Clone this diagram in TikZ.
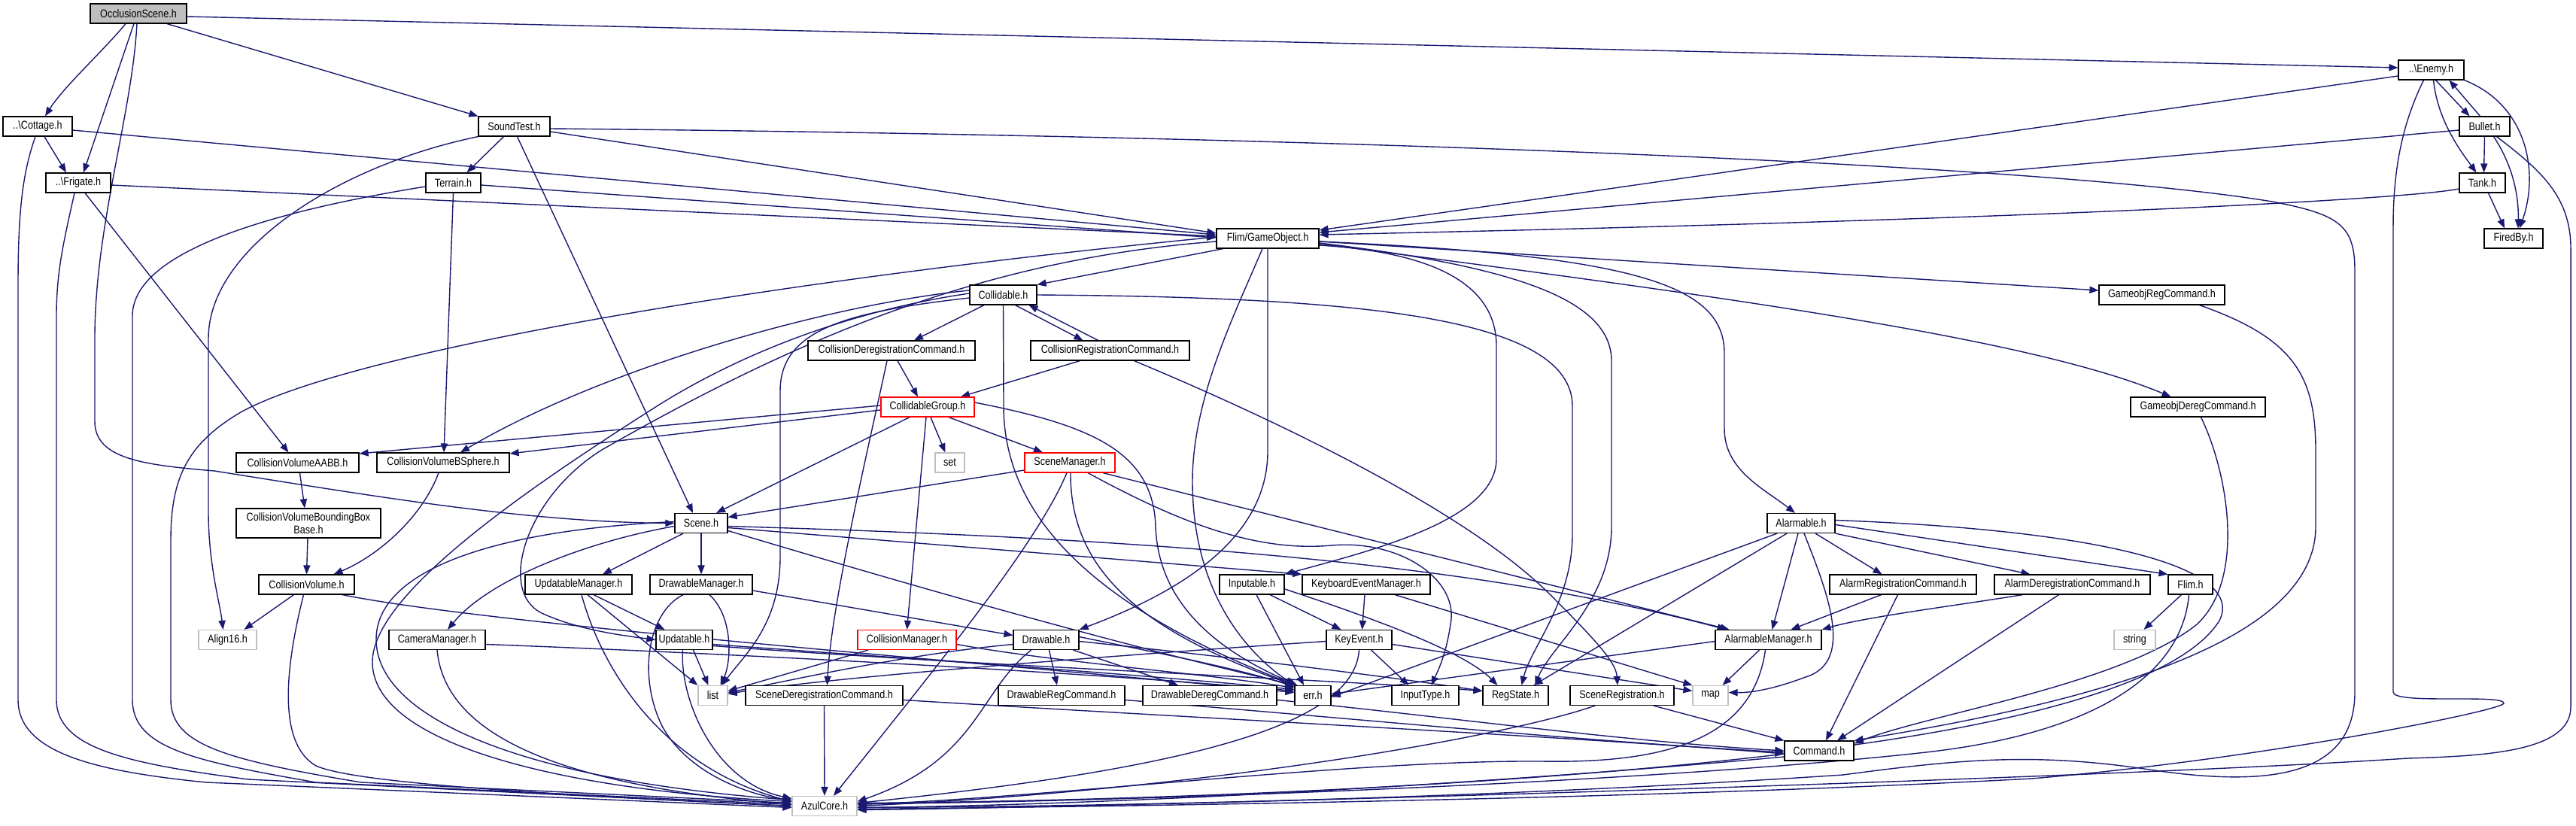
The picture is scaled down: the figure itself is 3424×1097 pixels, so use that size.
\documentclass[tikz,border=0pt]{standalone}
\usepackage{fontspec}
\setmainfont{Liberation Sans}[FakeStretch=0.84]
\usetikzlibrary{arrows.meta}
\definecolor{edgec}{HTML}{191970}
\definecolor{grayb}{HTML}{BFBFBF}
\pgfdeclarelayer{background}
\pgfsetlayers{background,main}
\tikzset{
 box/.style={draw=black, line width=0.6pt, fill=white, minimum height=13pt, inner sep=0pt, font=\fontsize{7.5}{8.6}\selectfont, text=black},
 graybox/.style={box, draw=grayb},
 redbox/.style={box, draw=red},
 dep/.style={draw=edgec, line width=0.7pt, -{Triangle[length=6pt,width=4.6pt]}},
}
\begin{document}
\begin{tikzpicture}[x=0.5pt,y=-0.5pt]
\useasboundingbox (0,0) rectangle (3424,1097);
% nodes
\node[box, fill=grayb, minimum width=64pt] (OS) at (184,18) {OcclusionScene.h};
\node[box, minimum width=46pt] (Cot) at (50,168) {..\textbackslash Cottage.h};
\node[box, minimum width=43pt] (Fri) at (104,243) {..\textbackslash Frigate.h};
\node[box, minimum width=47.5pt] (ST) at (683.5,168) {SoundTest.h};
\node[box, minimum width=36.5pt] (Ter) at (602.5,243) {Terrain.h};
\node[box, minimum width=68pt] (GO) at (1685,317) {Flim/GameObject.h};
\node[box, minimum width=43.5pt] (En) at (3231.5,93) {..\textbackslash Enemy.h};
\node[box, minimum width=33.5pt] (Bul) at (3302.5,168) {Bullet.h};
\node[box, minimum width=30.5pt] (Tank) at (3299.5,243) {Tank.h};
\node[box, minimum width=39pt] (FB) at (3341,317) {FiredBy.h};
\node[box, minimum width=44.5pt] (Col) at (1333.5,392) {Collidable.h};
\node[box, minimum width=83.5pt] (GRC) at (2873.5,392) {GameobjRegCommand.h};
\node[box, minimum width=111pt] (CDC) at (1185,466) {CollisionDeregistrationCommand.h};
\node[box, minimum width=105.5pt] (CRC) at (1475.5,466) {CollisionRegistrationCommand.h};
\node[redbox, minimum width=62pt] (CG) at (1233,541) {CollidableGroup.h};
\node[box, minimum width=89.5pt] (GDC) at (2921.5,541) {GameobjDeregCommand.h};
\node[box, minimum width=81.5pt] (AABB) at (395.5,615) {CollisionVolumeAABB.h};
\node[box, minimum width=88pt] (BS) at (589,615) {CollisionVolumeBSphere.h};
\node[graybox, minimum width=19.5pt] (set) at (1262.5,615) {set};
\node[redbox, minimum width=60pt] (SM) at (1422,615) {SceneManager.h};
\node[box, minimum width=96pt, minimum height=19.5pt, align=center] (BBB) at (410,695.5) {CollisionVolumeBoundingBox\\Base.h};
\node[box, minimum width=35pt] (Scene) at (932,695.5) {Scene.h};
\node[box, minimum width=45pt] (Alm) at (2394,695.5) {Alarmable.h};
\node[box, minimum width=63.5pt] (CV) at (407.5,777) {CollisionVolume.h};
\node[box, minimum width=71pt] (UM) at (769,777) {UpdatableManager.h};
\node[box, minimum width=68pt] (DM) at (932,777) {DrawableManager.h};
\node[box, minimum width=43pt] (Inp) at (1664,777) {Inputable.h};
\node[box, minimum width=85pt] (KEM) at (1816,777) {KeyboardEventManager.h};
\node[box, minimum width=97.5pt] (ARC) at (2529.5,777) {AlarmRegistrationCommand.h};
\node[box, minimum width=103.5pt] (ADC) at (2754.5,777) {AlarmDeregistrationCommand.h};
\node[box, minimum width=29.5pt] (Flim) at (2911.5,777) {Flim.h};
\node[graybox, minimum width=38.5pt] (A16) at (302.5,850.5) {Align16.h};
\node[box, minimum width=64pt] (CamM) at (581,850.5) {CameraManager.h};
\node[box, minimum width=37.5pt] (Upd) at (909.5,850.5) {Updatable.h};
\node[redbox, minimum width=65.5pt] (CM) at (1205.5,850.5) {CollisionManager.h};
\node[box, minimum width=43.5pt] (Drw) at (1390.5,850.5) {Drawable.h};
\node[box, minimum width=43.5pt] (KE) at (1806.5,850.5) {KeyEvent.h};
\node[box, minimum width=70.5pt] (AM) at (2350.5,850.5) {AlarmableManager.h};
\node[graybox, minimum width=27.5pt] (str) at (2837.5,850.5) {string};
\node[graybox, minimum width=19.5pt] (list) at (947.5,924.5) {list};
\node[box, minimum width=104.5pt] (SDC) at (1095.5,924.5) {SceneDeregistrationCommand.h};
\node[box, minimum width=84pt] (DRC) at (1411,924.5) {DrawableRegCommand.h};
\node[box, minimum width=89pt] (DDC) at (1608,924.5) {DrawableDeregCommand.h};
\node[box, minimum width=24pt] (err) at (1745,924.5) {err.h};
\node[box, minimum width=44.5pt] (IT) at (1894.5,924.5) {InputType.h};
\node[box, minimum width=43.5pt] (RS) at (2014.5,924.5) {RegState.h};
\node[box, minimum width=69pt] (SR) at (2156,924.5) {SceneRegistration.h};
\node[graybox, minimum width=23.5pt] (map) at (2273.5,924.5) {map};
\node[box, minimum width=46pt] (Cmd) at (2418,998) {Command.h};
\node[graybox, minimum width=43pt] (Azul) at (1096,1071.5) {AzulCore.h};

\begin{pgfonlayer}{background}
% OcclusionScene
\draw[dep] ([xshift=-8.5pt]OS.south) .. controls (135,70) and (85,115) .. ([xshift=5pt]Cot.north);
\draw[dep] ([xshift=-3pt]OS.south) -- ([xshift=3.5pt]Fri.north);
\draw[dep] ([xshift=-1pt]OS.south) .. controls (176,150) and (126,300) .. (126,450) -- (126,560) .. controls (126,610) and (190,618) .. (285,626) .. controls (500,660) and (700,694) .. (Scene.west);
\draw[dep] ([xshift=19pt]OS.south) -- (ST.north west);
\draw[dep] ([yshift=-2pt]OS.east) -- ([yshift=1.5pt]En.west);
% Cottage
\draw[dep] ([xshift=4.5pt]Cot.south) -- ([xshift=-8pt]Fri.north);
\draw[dep] ([yshift=-2.5pt]Cot.east) -- ([yshift=2.5pt]GO.west);
\draw[dep] ([xshift=-1.5pt]Cot.south) .. controls (30,230) and (24,280) .. (24,380) -- (24,930) .. controls (24,1000) and (124,1025) .. (274,1040) -- ([yshift=-1pt]Azul.west);
% Frigate
\draw[dep] ([yshift=-1.5pt]Fri.east) -- ([yshift=1.5pt]GO.west);
\draw[dep] ([xshift=-2.5pt]Fri.south) .. controls (85,320) and (75,360) .. (75,420) -- (75,930) .. controls (75,995) and (170,1015) .. (330,1036) -- (Azul.west);
\draw[dep] ([xshift=4.5pt]Fri.south) -- ([xshift=-6pt]AABB.north);
% SoundTest
\draw[dep] ([xshift=-7pt]ST.south) -- ([xshift=9pt]Ter.north);
\draw[dep] ([yshift=-3.5pt]ST.east) -- ([yshift=3.5pt]GO.west);
\draw[dep] ([xshift=2pt]ST.south) -- ([xshift=-5.5pt]Scene.north);
\draw[dep] (ST.south west) .. controls (450,220) and (277,330) .. (277,450) -- (277,680) .. controls (277,750) and (292,800) .. ([xshift=-3pt]A16.north);
\draw[dep] ([yshift=-1.5pt]ST.east) .. controls (1700,180) and (2700,215) .. (3020,268) .. controls (3110,285) and (3130,300) .. (3130,360) -- (3130,920) .. controls (3130,1040) and (3000,1045) .. (2850,1022) .. controls (2700,1000) and (2600,1010) .. (2450,1030) .. controls (2000,1060) and (1500,1072) .. ([yshift=-1pt]Azul.east);
% Terrain
\draw[dep] ([yshift=-1.5pt]Ter.east) -- ([yshift=0.5pt]GO.west);
\draw[dep] (Ter.south) -- ([xshift=0.5pt]BS.north);
\draw[dep] ([yshift=-2.5pt]Ter.west) .. controls (380,278) and (176,330) .. (176,420) -- (176,930) .. controls (176,995) and (260,1012) .. (420,1040) -- ([yshift=1pt]Azul.west);
% GameObject
\draw[dep] ([yshift=1pt]GO.west) .. controls (1000,375) and (460,470) .. (320,548) .. controls (245,592) and (227,640) .. (227,720) -- (227,930) .. controls (227,990) and (300,1010) .. (480,1040) -- ([yshift=2pt]Azul.west);
\draw[dep] ([xshift=-29.5pt]GO.south) -- (Col.north east);
\draw[dep] ([yshift=-2pt]GO.east) -- ([yshift=3pt]GRC.west);
\draw[dep] ([yshift=-3.5pt]GO.east) .. controls (2300,395) and (2700,450) .. ([xshift=-18pt]GDC.north);
\draw[dep] ([yshift=-4.5pt]GO.east) .. controls (1900,335) and (1989,375) .. (1989,460) -- (1989,610) .. controls (1989,690) and (1830,730) .. (Inp.north east);
\draw[dep] ([yshift=-3pt]GO.east) .. controls (2020,355) and (2142,400) .. (2142,480) -- (2142,700) .. controls (2142,800) and (2060,860) .. ([xshift=13pt]RS.north);
\draw[dep] ([yshift=-2pt]GO.east) .. controls (2180,340) and (2292,380) .. (2292,470) -- (2292,570) .. controls (2292,625) and (2345,650) .. ([xshift=-4pt]Alm.north);
\draw[dep] (GO.south) -- (1685,600) .. controls (1685,720) and (1560,790) .. (Drw.north east);
\draw[dep] ([xshift=-3.5pt]GO.south) .. controls (1640,420) and (1585,530) .. (1585,640) .. controls (1585,790) and (1660,870) .. (err.north west);
\draw[dep] ([yshift=-2pt]GO.west) .. controls (1300,345) and (1050,455) .. (800,598) .. controls (700,660) and (660,785) .. (720,815) .. controls (770,838) and (830,845) .. (Upd.west);
% Collidable
\draw[dep] ([xshift=-12.75pt]Col.south) -- ([xshift=15pt]CDC.north);
\draw[dep] ([xshift=8pt]Col.south) -- ([xshift=-18pt]CRC.north);
\draw[dep] ([xshift=-8pt]CRC.north) -- ([xshift=17pt]Col.south);
\draw[dep] ([yshift=-2pt]Col.west) .. controls (1120,415) and (1037,440) .. (1037,520) -- (1037,740) .. controls (1037,830) and (990,870) .. ([xshift=6pt]list.north);
\draw[dep] (Col.south) -- (1334,540) .. controls (1334,690) and (1460,810) .. ([xshift=1pt]err.north west);
\draw[dep] (Col.east) .. controls (1800,395) and (2090,420) .. (2090,540) -- (2090,710) .. controls (2090,800) and (2035,860) .. ([xshift=4pt]RS.north);
\draw[dep] ([yshift=3pt]Col.west) .. controls (1100,405) and (800,490) .. ([xshift=11.5pt]BS.north);
\draw[dep] ([yshift=1pt]Col.west) .. controls (1150,410) and (1000,460) .. (873,540) .. controls (700,650) and (495,790) .. (495,880) .. controls (495,990) and (750,1050) .. ([yshift=3pt]Azul.west);
% Collision commands
\draw[dep] ([xshift=4pt]CDC.south) -- ([xshift=-6.5pt]CG.north);
\draw[dep] ([xshift=-3pt]CDC.south) .. controls (1160,570) and (1105,800) .. ([xshift=2pt]SDC.north);
\draw[dep] ([xshift=-20pt]CRC.south) -- ([xshift=22pt]CG.north);
\draw[dep] ([xshift=16pt]CRC.south) .. controls (1700,560) and (1950,680) .. (2060,790) .. controls (2120,850) and (2148,880) .. ([xshift=-3pt]SR.north);
% CollidableGroup
\draw[dep] ([yshift=1pt]CG.west) -- ([yshift=6pt]AABB.east);
\draw[dep] ([yshift=-2pt]CG.west) -- ([yshift=6pt]BS.east);
\draw[dep] ([xshift=-12pt]CG.south) -- ([xshift=10pt]Scene.north);
\draw[dep] ([xshift=2pt]CG.south) -- ([xshift=-3pt]set.north);
\draw[dep] ([xshift=14pt]CG.south) -- ([xshift=-18pt]SM.north);
\draw[dep] ([xshift=-1pt]CG.south) -- (CM.north);
\draw[dep] ([yshift=3pt]CG.east) .. controls (1450,565) and (1533,600) .. (1536,700) .. controls (1540,810) and (1630,870) .. ([xshift=2pt]err.north west);
% SceneManager
\draw[dep] ([yshift=-5pt]SM.west) -- ([yshift=4pt]Scene.east);
\draw[dep] ([xshift=-2pt]SM.south) .. controls (1380,720) and (1250,880) .. ([xshift=6pt]Azul.north);
\draw[dep] ([xshift=0.5pt]SM.south) .. controls (1422,760) and (1520,840) .. (err.north west);
\draw[dep] ([xshift=22pt]SM.south) -- ([xshift=-26pt]AM.north);
\draw[dep] ([xshift=12pt]SM.south) .. controls (1550,685) and (1660,735) .. (1770,725) .. controls (1860,717) and (1940,770) .. (1928,830) .. controls (1922,870) and (1912,890) .. ([xshift=4pt]IT.north);
% Scene
\draw[dep] (Scene.south) -- (DM.north);
\draw[dep] ([xshift=-12pt]Scene.south) -- ([xshift=16pt]UM.north);
\draw[dep] ([yshift=-2pt]Scene.west) .. controls (780,720) and (650,770) .. ([xshift=7pt]CamM.north);
\draw[dep] ([yshift=1pt]Scene.west) .. controls (650,705) and (500,760) .. (500,850) .. controls (500,950) and (680,1035) .. ([yshift=4pt]Azul.west);
\draw[dep] ([yshift=-2pt]Scene.east) .. controls (1500,715) and (1950,745) .. ([xshift=-28pt]AM.north);
\draw[dep] ([yshift=-3pt]Scene.east) -- (KEM.north west);
\draw[dep] ([yshift=-5pt]Scene.east) .. controls (1250,790) and (1500,860) .. ([xshift=1pt]err.north west);
% DrawableManager, UpdatableManager
\draw[dep] ([yshift=-4pt]DM.east) -- ([yshift=3pt]Drw.west);
\draw[dep] ([xshift=5.5pt]DM.south) .. controls (975,820) and (972,880) .. ([xshift=5pt]list.north);
\draw[dep] ([xshift=-12pt]DM.south) .. controls (860,815) and (848,900) .. (880,965) .. controls (915,1030) and (1000,1058) .. ([yshift=4pt]Azul.west);
\draw[dep] ([xshift=10pt]UM.south) -- ([xshift=-13pt]Upd.north);
\draw[dep] ([xshift=6pt]UM.south) -- (list.north west);
\draw[dep] ([xshift=2pt]UM.south) .. controls (800,890) and (880,1020) .. ([yshift=3pt]Azul.west);
% CameraManager, CollisionVolume family
\draw[dep] ([yshift=-3pt]CamM.east) .. controls (900,866) and (1400,890) .. ([yshift=3pt]err.west);
\draw[dep] (CamM.south) .. controls (590,960) and (700,1040) .. ([yshift=1pt]Azul.west);
\draw[dep] ([xshift=-8.5pt]CV.south) -- ([xshift=11pt]A16.north);
\draw[dep] ([xshift=-2pt]CV.south) .. controls (376,900) and (372,990) .. (420,1018) .. controls (470,1040) and (700,1055) .. (Azul.west);
\draw[dep] ([xshift=23.75pt]CV.south) .. controls (650,830) and (1300,880) .. ([yshift=2pt]err.west);
\draw[dep] ([xshift=1.5pt]AABB.south) -- ([xshift=-2.5pt]BBB.north);
\draw[dep] ([xshift=-0.5pt]BBB.south) -- (CV.north);
\draw[dep] ([xshift=-3pt]BS.south) .. controls (560,690) and (500,740) .. ([xshift=18pt]CV.north);
% Updatable, CollisionManager, Drawable
\draw[dep] ([xshift=6pt]Upd.south) -- ([xshift=-3pt]list.north);
\draw[dep] ([xshift=-1pt]Upd.south) .. controls (903,930) and (950,1040) .. ([yshift=5pt]Azul.west);
\draw[dep] ([yshift=-3pt]Upd.east) .. controls (1200,875) and (1500,895) .. ([yshift=4pt]err.west);
\draw[dep] ([yshift=-4pt]Upd.east) .. controls (1300,885) and (1800,905) .. ([yshift=3pt]RS.west);
\draw[dep] ([xshift=-25.75pt]CM.south) -- ([yshift=3pt]list.east);
\draw[dep] ([yshift=-3pt]CM.east) .. controls (1400,880) and (1600,895) .. ([yshift=5pt]err.west);
\draw[dep] ([xshift=2pt]Drw.south) -- ([xshift=-3pt]DRC.north);
\draw[dep] ([xshift=18pt]Drw.south) -- ([xshift=-21pt]DDC.north);
\draw[dep] ([yshift=-3pt]Drw.west) .. controls (1200,870) and (1050,905) .. ([yshift=2pt]list.east);
\draw[dep] ([xshift=-10pt]Drw.south) .. controls (1300,920) and (1300,1010) .. ([yshift=3pt]Azul.east);
\draw[dep] ([yshift=2pt]Drw.east) .. controls (1550,870) and (1650,890) .. ([yshift=-1pt]err.north west);
\draw[dep] ([yshift=-1pt]Drw.east) .. controls (1650,875) and (1850,900) .. ([yshift=3pt]RS.west);
% commands to Command.h
\draw[dep] (SDC.south) -- (Azul.north);
\draw[dep] ([yshift=-3pt]SDC.east) .. controls (1600,955) and (2100,980) .. ([yshift=-2pt]Cmd.west);
\draw[dep] ([yshift=-3pt]DRC.east) .. controls (1800,955) and (2100,985) .. ([yshift=-1pt]Cmd.west);
\draw[dep] ([yshift=-3pt]DDC.east) .. controls (1900,950) and (2150,985) .. (Cmd.west);
% Keyboard / Input
\draw[dep] ([xshift=-1pt]KEM.south) -- ([xshift=2pt]KE.north);
\draw[dep] ([xshift=19pt]KEM.south) -- (map.north west);
\draw[dep] ([xshift=12pt]Inp.south) -- ([xshift=-12pt]KE.north);
\draw[dep] ([xshift=3pt]Inp.south) -- ([xshift=-6pt]err.north);
\draw[dep] ([yshift=-3pt]Inp.east) .. controls (1850,830) and (1950,870) .. ([xshift=-12pt]RS.north);
\draw[dep] ([xshift=8pt]KE.south) -- ([xshift=-11pt]IT.north);
\draw[dep] ([yshift=-3pt]KE.east) -- ([yshift=3pt]map.west);
\draw[dep] (KE.south) .. controls (1800,960) and (1600,1020) .. ([yshift=2pt]Azul.east);
\draw[dep] ([yshift=-1pt]KE.west) .. controls (1500,870) and (1100,900) .. ([yshift=1pt]list.east);
% Alarmable family
\draw[dep] ([xshift=-6pt]AM.south) -- ([xshift=8pt]map.north);
\draw[dep] ([yshift=-1pt]AM.west) -- ([yshift=1pt]err.east);
\draw[dep] ([xshift=-2pt]AM.south) .. controls (2330,980) and (2220,1015) .. (2050,1012) .. controls (1800,1010) and (1400,1060) .. ([yshift=1pt]Azul.east);
\draw[dep] ([xshift=-16pt]Alm.south) -- ([yshift=-1pt]err.east);
\draw[dep] ([xshift=-9.5pt]Alm.south) -- ([xshift=12pt]RS.north);
\draw[dep] ([xshift=-2pt]Alm.south) -- ([xshift=2.5pt]AM.north);
\draw[dep] ([xshift=2pt]Alm.south) .. controls (2430,790) and (2465,880) .. (2400,900) .. controls (2360,915) and (2330,921) .. ([yshift=2pt]map.east);
\draw[dep] ([xshift=9.5pt]Alm.south) -- ([xshift=-14pt]ARC.north);
\draw[dep] (Alm.south east) -- ([xshift=-28pt]ADC.north);
\draw[dep] ([yshift=-1pt]Alm.east) -- (Flim.north west);
\draw[dep] ([yshift=2pt]Alm.east) .. controls (2800,705) and (2985,755) .. (2950,825) .. controls (2900,905) and (2700,955) .. (2500,985) .. controls (2100,1045) and (1500,1065) .. ([yshift=2pt]Azul.east);
\draw[dep] ([xshift=-14.5pt]ARC.south) -- ([xshift=15pt]AM.north);
\draw[dep] ([xshift=-3.5pt]ARC.south) -- ([xshift=4.5pt]Cmd.north);
\draw[dep] ([xshift=-33pt]ADC.south) .. controls (2600,805) and (2480,820) .. (AM.north east);
\draw[dep] ([xshift=-9pt]ADC.south) -- ([xshift=12pt]Cmd.north);
\draw[dep] ([xshift=-6pt]Flim.south) -- ([xshift=6pt]str.north);
\draw[dep] ([xshift=-1pt]Flim.south) .. controls (2900,900) and (2780,975) .. (2560,1000) .. controls (2200,1040) and (1500,1066) .. ([yshift=1.5pt]Azul.east);
\draw[dep] ([xshift=25pt]GRC.south) .. controls (3050,450) and (3078,500) .. (3078,600) -- (3078,700) .. controls (3078,850) and (2800,930) .. (Cmd.north east);
\draw[dep] ([xshift=2pt]GDC.south) .. controls (2962,630) and (2985,770) .. (2920,830) .. controls (2820,910) and (2560,950) .. ([yshift=-2pt]Cmd.north east);
\draw[dep] ([xshift=21pt]SR.south) -- (Cmd.north west);
\draw[dep] ([xshift=-18pt]SR.south) .. controls (2000,980) and (1600,1050) .. (Azul.east);
\draw[dep] ([yshift=-4pt]Cmd.west) .. controls (2000,1040) and (1500,1070) .. ([yshift=-1pt]Azul.east);
% Enemy, Bullet, Tank
\draw[dep] ([xshift=3pt]En.south) -- ([xshift=-10pt]Bul.north);
\draw[dep] ([xshift=-3pt]Bul.north) -- ([xshift=12pt]En.south);
\draw[dep] ([xshift=1.5pt]En.south) .. controls (3240,160) and (3270,200) .. ([xshift=-4pt]Tank.north);
\draw[dep] (En.south east) .. controls (3360,140) and (3375,230) .. ([xshift=4pt]FB.north);
\draw[dep] ([yshift=-4pt]En.west) -- ([yshift=5.5pt]GO.east);
\draw[dep] ([xshift=-5pt]En.south) .. controls (3195,160) and (3181,220) .. (3181,300) -- (3181,920) .. controls (3181,937) and (3330,922) .. (3328,935) .. controls (3325,945) and (3000,1010) .. (2700,1035) .. controls (2200,1062) and (1500,1072) .. ([yshift=-2pt]Azul.east);
\draw[dep] (Bul.south) -- ([xshift=1pt]Tank.north);
\draw[dep] ([xshift=6pt]Bul.south) .. controls (3340,220) and (3348,260) .. ([xshift=3pt]FB.north);
\draw[dep] ([yshift=-2.5pt]Bul.west) -- ([yshift=4pt]GO.east);
\draw[dep] ([xshift=8pt]Bul.south) .. controls (3375,225) and (3417,260) .. (3417,330) -- (3417,940) .. controls (3417,1000) and (3300,1005) .. (3200,1008) .. controls (2800,1035) and (1500,1073) .. ([yshift=-2.5pt]Azul.east);
\draw[dep] ([xshift=4pt]Tank.south) -- ([xshift=-6pt]FB.north);
\draw[dep] ([yshift=-4pt]Tank.west) .. controls (3200,265) and (2700,292) .. ([yshift=2.5pt]GO.east);
\end{pgfonlayer}
\end{tikzpicture}
\end{document}
